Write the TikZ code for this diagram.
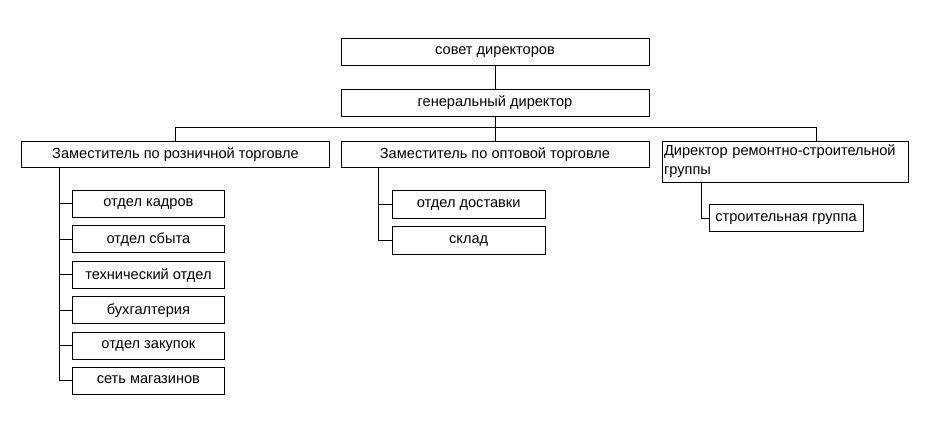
\documentclass[tikz,border=0pt]{standalone}
\usepackage{fontspec}
\setmainfont{Liberation Sans}

\begin{document}
\begin{tikzpicture}[x=1pt,y=-1pt,line width=1pt,
    box/.style={draw,rectangle,inner sep=0pt,minimum height=27pt,font=\fontsize{14.6}{17}\selectfont},
    wide/.style={box,text depth=2pt,minimum width=308pt,minimum height=26pt},
    kid/.style={box,text depth=2pt,minimum width=152pt}]
      \useasboundingbox (0,0) rectangle (935,432);
      \node[wide,minimum height=27pt] (sovet) at (495,51.5) {совет директоров};
      \node[wide,minimum height=27pt] (gendir) at (495,102.5) {генеральный директор};
      \node[wide] (zr) at (175.5,154) {Заместитель по розничной торговле};
      \node[wide] (zo) at (495,154) {Заместитель по оптовой торговле};
      \node[box,font=\fontsize{14.6}{19}\selectfont,minimum width=246pt,minimum height=41pt,
            text width=242pt,align=left] (drsg) at (785,161.5) {Директор ремонтно-строительной\\группы};
      \draw (sovet.south) -- (gendir.north);
      \draw (gendir.south) -- (zo.north);
      \draw (zr.north) -- ++(0,-12.7) -| ([xshift=-92pt]drsg.north east);
      % retail departments
      \foreach \t [count=\i] in {отдел кадров,отдел сбыта,технический отдел,бухгалтерия,отдел закупок,сеть магазинов} {
        \node[kid] (r\i) at (148.4,{168.5+35.4*\i}) {\t};
        \draw ([xshift=38.5pt]zr.south west) |- (r\i.west);
      }
      % wholesale departments
      \node[kid,minimum width=153pt,minimum height=27.5pt] (dost) at (468.7,204.5) {отдел доставки};
      \node[kid,minimum width=153pt,minimum height=27.5pt] (sklad) at (468.7,240.3) {склад};
      \draw ([xshift=38.3pt]zo.south west) |- (dost.west);
      \draw ([xshift=38.3pt]zo.south west) |- (sklad.west);
      % building group
      \node[kid,minimum width=154pt] (sg) at (786,218.3) {строительная группа};
      \draw ([xshift=39.7pt]drsg.south west) |- (sg.west);
\end{tikzpicture}
\end{document}
